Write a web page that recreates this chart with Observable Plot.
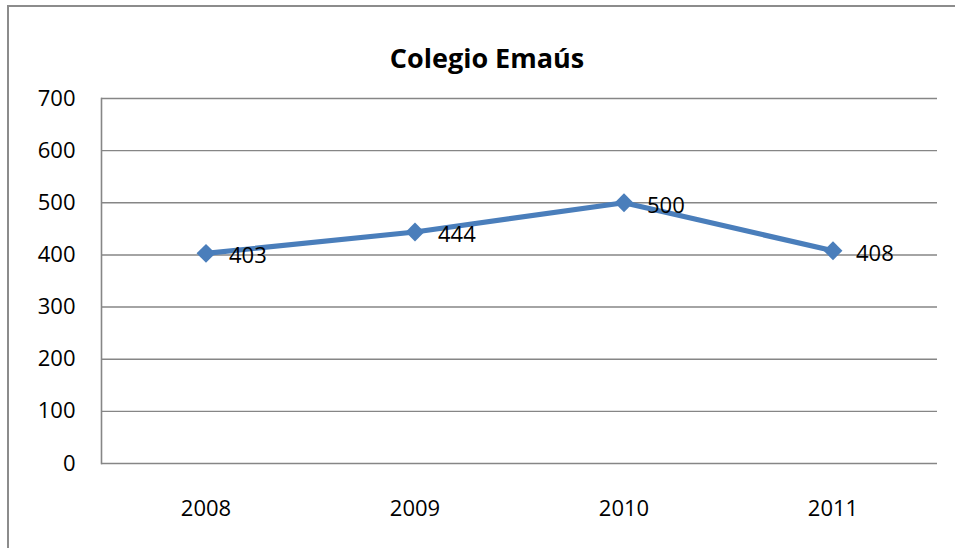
<!DOCTYPE html>
<html>
<head>
<meta charset="utf-8">
<script src="https://cdn.jsdelivr.net/npm/d3@7"></script>
<script src="https://cdn.jsdelivr.net/npm/@observablehq/plot@0.6"></script>
<style>
  html, body { margin: 0; padding: 0; background: #fff; overflow: hidden; width: 955px; height: 548px; }
  #wrap { position: relative; width: 955px; height: 548px; }
  #border { position: absolute; left: 7px; top: 5px; width: 1000px; height: 600px; border: 2px solid #8c8c8c; box-sizing: border-box; }
  #chart { position: absolute; left: 0; top: 0; }
</style>
</head>
<body>
<div id="wrap"><div id="border"></div><div id="chart"></div></div>
<script>
const title = "Colegio Emaús";
const years = ["2008", "2009", "2010", "2011"];
const values = [403, 444, 500, 408];
const yTicks = [0, 100, 200, 300, 400, 500, 600, 700];

const data = years.map((y, i) => ({year: y, value: values[i]}));
const font = "'Open Sans', sans-serif";

const chart = Plot.plot({
  width: 955,
  height: 548,
  marginLeft: 101,
  marginRight: 18,
  marginTop: 98,
  marginBottom: 85,
  style: {fontFamily: font, fontSize: "22px", color: "#000", background: "transparent", overflow: "visible"},
  x: {type: "band", domain: years, padding: 0, label: null},
  y: {domain: [0, 700], label: null},
  marks: [
    Plot.ruleY(yTicks, {stroke: "#868686", strokeWidth: 1.4, strokeOpacity: 1}),
    Plot.frame({anchor: "left", stroke: "#868686", strokeWidth: 1.6, strokeOpacity: 1}),
    Plot.axisY(yTicks, {tickSize: 0, tickPadding: 26, fontSize: 22, label: null}),
    Plot.axisX({tickSize: 0, tickPadding: 37, fontSize: 22, label: null}),
    Plot.line(data, {x: "year", y: "value", stroke: "#4a7ebb", strokeWidth: 5.2}),
    Plot.dot(data, {x: "year", y: "value", symbol: "diamond2", r: 8.5, fill: "#4a7ebb", stroke: "none"}),
    Plot.text(data, {x: "year", y: "value", text: d => String(d.value), textAnchor: "start", dx: 23, dy: 3, fontSize: 22, fill: "#000"}),
    Plot.text([title], {frameAnchor: "top", dx: -32.5, dy: -49.5, fontSize: 27, fontWeight: "bold", fill: "#000"})
  ]
});
document.getElementById("chart").appendChild(chart);
</script>
</body>
</html>
